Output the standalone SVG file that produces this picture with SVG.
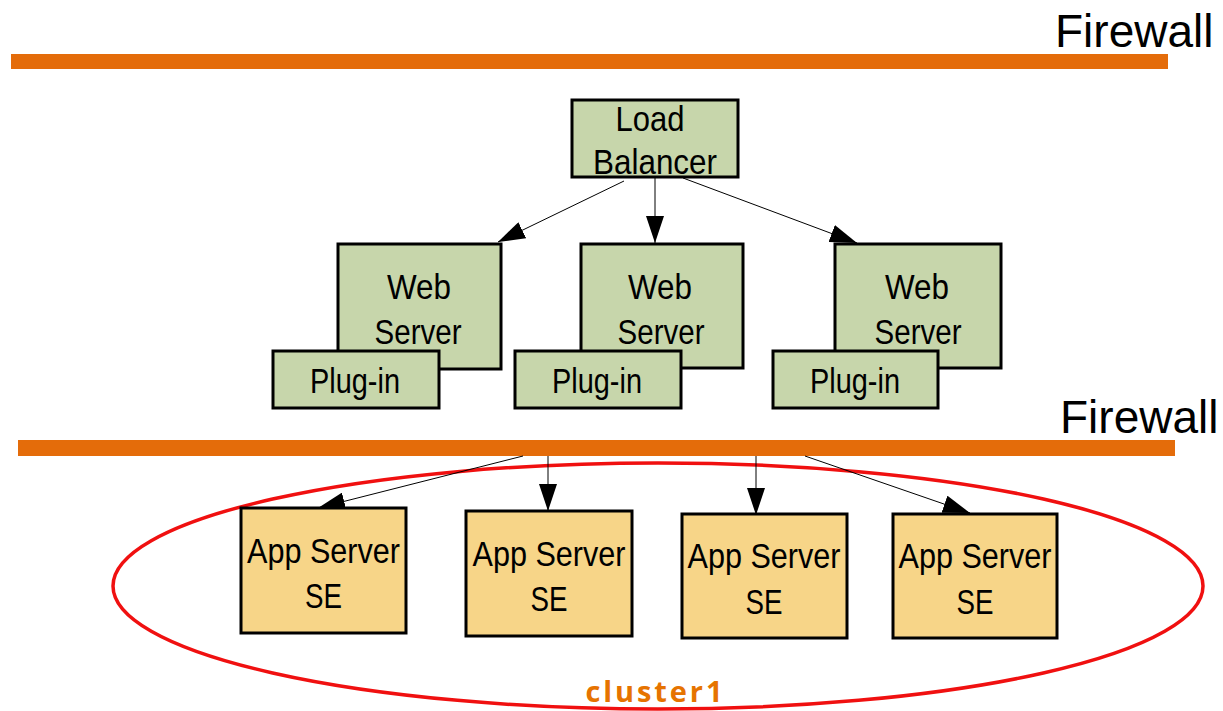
<svg xmlns="http://www.w3.org/2000/svg" width="1223" height="711" viewBox="0 0 1223 711">
<style>
.bar{fill:#E46C0A}
.fw{font-family:"Liberation Sans",Arial,sans-serif;font-size:46px;fill:#000}
.web{fill:#C7D6AB;stroke:#000;stroke-width:3}
.app{fill:#F7D588;stroke:#000;stroke-width:3}
.t{font-family:"Liberation Sans",Arial,sans-serif;font-size:35px;fill:#000;text-anchor:middle}
.ta{font-family:"Liberation Sans",Arial,sans-serif;font-size:35px;fill:#000;text-anchor:middle}
.edge{stroke:#000;stroke-width:1;fill:none;marker-end:url(#ah)}
.cl{fill:none;stroke:#F01010;stroke-width:3.5}
.cllabel{font-family:"Open Sans","Liberation Sans",sans-serif;font-size:29px;font-weight:bold;fill:#E67300;text-anchor:middle}
</style>
<defs>
<marker id="ah" markerUnits="userSpaceOnUse" markerWidth="28" markerHeight="18" refX="27" refY="9" orient="auto">
<path d="M0,0 L27,9 L0,18 z" fill="#000"/>
</marker>
</defs>
<rect width="1223" height="711" fill="#fff"/>

<g id="firewall-top">
<rect class="bar" x="11" y="54" width="1157" height="15"/>
<text class="fw" x="1055" y="47">Firewall</text>
</g>
<g id="firewall-bottom">
<rect class="bar" x="18" y="440" width="1157" height="16"/>
<text class="fw" x="1060" y="433">Firewall</text>
</g>

<g id="cluster1">
<ellipse class="cl" cx="658" cy="586" rx="545" ry="123"/>
<text class="cllabel" x="654" y="702" textLength="137" lengthAdjust="spacing">cluster1</text>
</g>

<g id="connectors">
<line class="edge" x1="624" y1="181" x2="498" y2="242"/>
<line class="edge" x1="655" y1="178" x2="655" y2="243"/>
<line class="edge" x1="683" y1="178" x2="857" y2="243"/>
<line class="edge" x1="523" y1="456" x2="318" y2="508"/>
<line class="edge" x1="548" y1="456" x2="548" y2="511"/>
<line class="edge" x1="756" y1="456" x2="756" y2="515"/>
<line class="edge" x1="805" y1="456" x2="970" y2="513"/>
</g>

<g id="load-balancer">
<rect class="web" x="572" y="100" width="166" height="77"/>
<text class="t" x="650" y="131" textLength="69" lengthAdjust="spacingAndGlyphs">Load</text>
<text class="t" x="655" y="174" textLength="124" lengthAdjust="spacingAndGlyphs">Balancer</text>
</g>

<g id="web-server-1">
<rect class="web" x="338" y="244" width="163" height="125"/>
<text class="t" x="419" y="299" textLength="64" lengthAdjust="spacingAndGlyphs">Web</text>
<text class="t" x="418" y="344" textLength="87" lengthAdjust="spacingAndGlyphs">Server</text>
</g>
<g id="plugin-1">
<rect class="web" x="273" y="351" width="166" height="57"/>
<text class="t" x="355" y="393" textLength="90" lengthAdjust="spacingAndGlyphs">Plug-in</text>
</g>

<g id="web-server-2">
<rect class="web" x="581" y="244" width="162" height="124"/>
<text class="t" x="660" y="299" textLength="64" lengthAdjust="spacingAndGlyphs">Web</text>
<text class="t" x="661" y="344" textLength="87" lengthAdjust="spacingAndGlyphs">Server</text>
</g>
<g id="plugin-2">
<rect class="web" x="515" y="351" width="166" height="57"/>
<text class="t" x="597" y="393" textLength="90" lengthAdjust="spacingAndGlyphs">Plug-in</text>
</g>

<g id="web-server-3">
<rect class="web" x="835" y="244" width="166" height="124"/>
<text class="t" x="917" y="299" textLength="64" lengthAdjust="spacingAndGlyphs">Web</text>
<text class="t" x="918" y="344" textLength="87" lengthAdjust="spacingAndGlyphs">Server</text>
</g>
<g id="plugin-3">
<rect class="web" x="773" y="351" width="165" height="57"/>
<text class="t" x="855" y="393" textLength="90" lengthAdjust="spacingAndGlyphs">Plug-in</text>
</g>

<g id="app-server-1">
<rect class="app" x="241" y="508" width="165" height="125"/>
<text class="ta" x="323.5" y="563" textLength="153" lengthAdjust="spacingAndGlyphs">App Server</text>
<text class="ta" x="323.5" y="608" textLength="37" lengthAdjust="spacingAndGlyphs">SE</text>
</g>
<g id="app-server-2">
<rect class="app" x="466" y="511" width="166" height="125"/>
<text class="ta" x="549" y="566" textLength="153" lengthAdjust="spacingAndGlyphs">App Server</text>
<text class="ta" x="549" y="611" textLength="37" lengthAdjust="spacingAndGlyphs">SE</text>
</g>
<g id="app-server-3">
<rect class="app" x="682" y="514" width="165" height="124"/>
<text class="ta" x="764" y="568" textLength="153" lengthAdjust="spacingAndGlyphs">App Server</text>
<text class="ta" x="764" y="614" textLength="37" lengthAdjust="spacingAndGlyphs">SE</text>
</g>
<g id="app-server-4">
<rect class="app" x="893" y="514" width="164" height="124"/>
<text class="ta" x="975" y="568" textLength="153" lengthAdjust="spacingAndGlyphs">App Server</text>
<text class="ta" x="975" y="614" textLength="37" lengthAdjust="spacingAndGlyphs">SE</text>
</g>
</svg>
